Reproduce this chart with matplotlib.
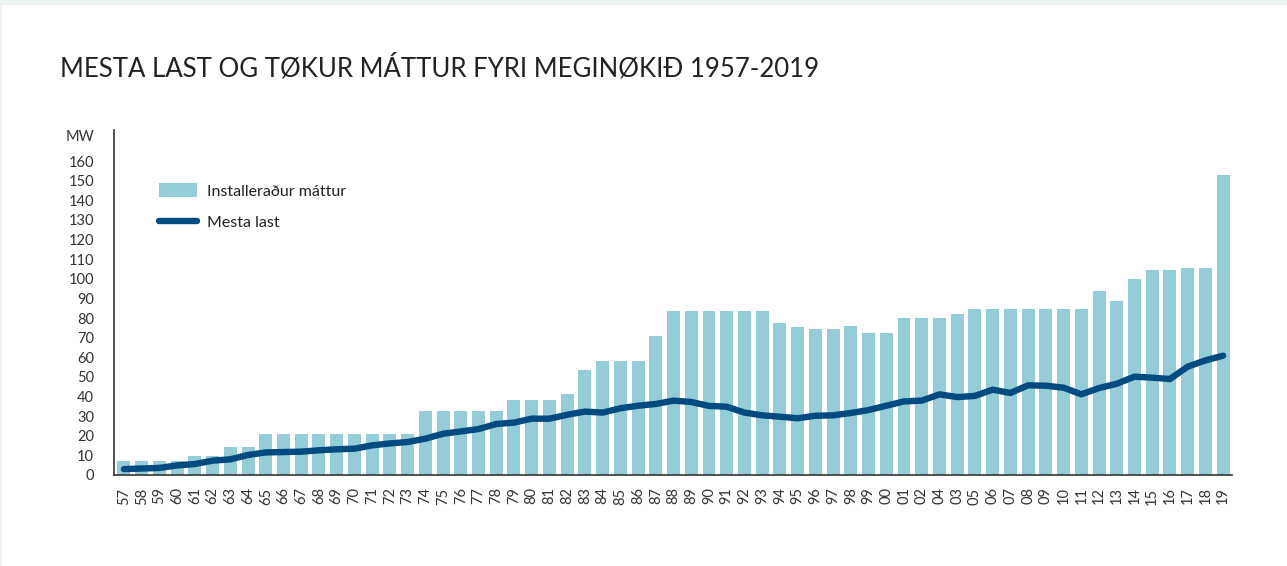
import numpy as np
import matplotlib.pyplot as plt
from matplotlib.patches import Rectangle

plt.rcParams['font.family'] = ['Lato', 'DejaVu Sans']

years = ['57', '58', '59', '60', '61', '62', '63', '64', '65', '66', '67', '68', '69', '70',
         '71', '72', '73', '74', '75', '76', '77', '78', '79', '80', '81', '82', '83', '84',
         '85', '86', '87', '88', '89', '90', '91', '92', '93', '94', '95', '96', '97', '98',
         '99', '00', '01', '02', '04', '03', '05', '06', '07', '08', '09', '10', '11', '12',
         '13', '14', '15', '16', '17', '18', '19']

installed = [7, 7, 7, 7, 9.5, 9.5, 14.5, 14.5, 21, 21, 21, 21, 21, 21,
             21, 21, 21, 32.5, 32.5, 32.5, 32.5, 32.5, 38, 38, 38, 41.5, 53.5, 58,
             58, 58, 71, 83.5, 83.5, 83.5, 83.5, 83.5, 83.5, 77.5, 75.5, 74.5, 74.5, 76,
             72.5, 72.5, 80, 80, 80, 82, 84.5, 84.5, 84.5, 84.5, 84.5, 84.5, 84.5, 94,
             88.5, 100, 104.5, 104.5, 105.5, 105.5, 153]

peak_load = [3, 3.3, 3.6, 4.9, 5.6, 7.3, 8, 10.2, 11.5, 11.7, 11.9, 12.6, 13.1, 13.4,
             15.1, 16.1, 16.8, 18.5, 21, 22.2, 23.4, 26, 26.7, 28.7, 28.7, 30.7, 32.3, 31.8,
             34, 35.3, 36.2, 37.9, 37.2, 35.2, 34.8, 31.8, 30.4, 29.7, 28.9, 30.2, 30.4, 31.6,
             33.1, 35.3, 37.5, 37.9, 41.1, 39.7, 40.3, 43.5, 41.8, 45.7, 45.5, 44.5, 41.1, 44.3,
             46.5, 50.1, 49.6, 48.9, 55.2, 58.4, 60.8]

bar_color = '#94cdd8'
line_color = '#024a80'

fig = plt.figure(figsize=(12.87, 5.66), dpi=100)
fig.patch.set_facecolor('#edf5f3')
fig.add_artist(Rectangle((2 / 1287, 0), 1, 561 / 566, transform=fig.transFigure,
                         facecolor='white', edgecolor='none', zorder=-1))

ax = fig.add_axes([114 / 1287, 91 / 566, 1118 / 1287, 345 / 566])
ax.set_facecolor('white')

x = np.arange(len(years))
bars = ax.bar(x, installed, width=0.73, color=bar_color, zorder=2)
line, = ax.plot(x, peak_load, color=line_color, lw=4.6, solid_capstyle='round',
                solid_joinstyle='round', zorder=3)

ax.set_xlim(-0.56, len(years) - 0.5)
ax.set_ylim(0, 175.8)
ax.set_yticks(np.arange(0, 161, 10))
ax.set_xticks(x)
ax.set_xticklabels(years, rotation=90, fontsize=10.5, color='#333333')
ax.tick_params(axis='y', labelsize=10.5, colors='#333333', length=0, pad=14.4)
ax.tick_params(axis='x', length=0, pad=9)

for s in ['top', 'right']:
    ax.spines[s].set_visible(False)
ax.spines['left'].set_color('#333333')
ax.spines['left'].set_linewidth(1.2)
ax.spines['bottom'].set_color('#333333')
ax.spines['bottom'].set_linewidth(1.2)
ax.spines['bottom'].set_zorder(4)

ax.text(-0.0179, 172.2, 'MW', transform=ax.get_yaxis_transform(), ha='right', va='center',
        fontsize=10.5, color='#333333')

ax.legend([bars, line], ['Installeraður máttur', 'Mesta last'],
          loc='upper left', bbox_to_anchor=(0.040, 0.845), frameon=False, fontsize=11.5,
          handlelength=2.38, handleheight=0.94, labelspacing=1.0, handletextpad=0.63,
          borderpad=0, borderaxespad=0, labelcolor='#222222')

fig.text(60 / 1287, 1 - 68 / 566, 'MESTA LAST OG TØKUR MÁTTUR FYRI MEGINØKIÐ 1957-2019',
         fontsize=18.5, color='#222222', ha='left', va='center')

fig.savefig('out.png', dpi=100, facecolor=fig.get_facecolor())
